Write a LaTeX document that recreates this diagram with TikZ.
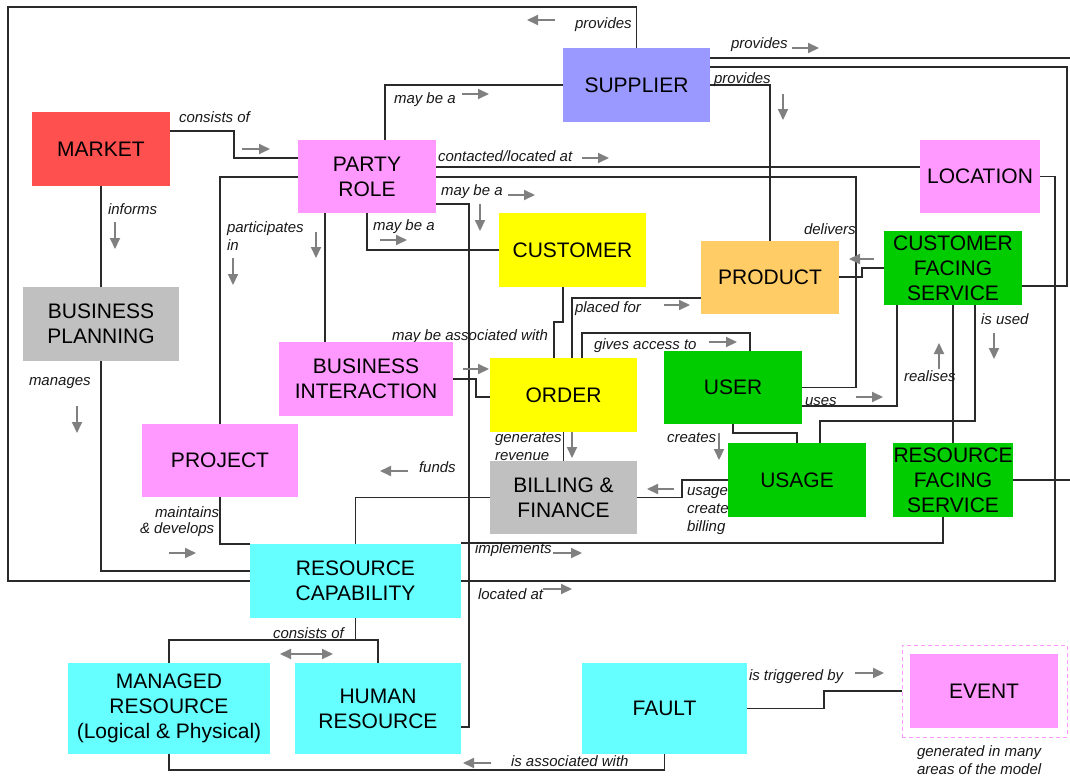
\documentclass[tikz,border=0pt]{standalone}
\usepackage{fontspec}
\setmainfont{Liberation Sans}
\usetikzlibrary{arrows.meta}
\definecolor{cRed}{HTML}{FF5050}
\definecolor{cPink}{HTML}{FF99FF}
\definecolor{cBlue}{HTML}{9999FF}
\definecolor{cYellow}{HTML}{FFFF00}
\definecolor{cOrange}{HTML}{FFCC66}
\definecolor{cGreen}{HTML}{00CC00}
\definecolor{cGrey}{HTML}{C0C0C0}
\definecolor{cCyan}{HTML}{66FFFF}
\definecolor{cLine}{HTML}{2A2A2A}
\definecolor{cArrow}{HTML}{808080}
\pgfdeclarelayer{paper}
\pgfdeclarelayer{wires}
\pgfsetlayers{paper,wires,main}
\begin{document}
\begin{tikzpicture}[x=1pt,y=-1pt,
  entity/.style={rectangle, inner sep=0pt, outer sep=0pt, align=center,
     font=\fontsize{21}{25}\selectfont, text=black},
  link/.style={draw=cLine, line width=1.25pt},
  rel/.style={inner sep=0pt, outer sep=0pt, anchor=west, align=left,
     font=\fontsize{15}{18}\selectfont\itshape, text=black!90},
  hint/.style={draw=cArrow, line width=2pt, -{Triangle[length=11pt,width=10pt]}},
  hintboth/.style={draw=cArrow, line width=2pt,
     {Triangle[length=11pt,width=10pt]}-{Triangle[length=11pt,width=10pt]}},
]
\useasboundingbox (0,0) rectangle (1070,776);
\begin{pgfonlayer}{paper}
  \fill[white] (0,0) rectangle (1070,776);
\end{pgfonlayer}

% ---------- entities ----------
\node[entity, fill=cRed,    minimum width=138pt, minimum height=74pt] (market)   at (101,149)   {MARKET};
\node[entity, fill=cPink,   minimum width=138pt, minimum height=73pt] (party)    at (367,176.5) {PARTY\\ROLE};
\node[entity, fill=cBlue,   minimum width=147pt, minimum height=74pt] (supplier) at (636.5,85)  {SUPPLIER};
\node[entity, fill=cPink,   minimum width=120pt, minimum height=73pt] (location) at (980,176.5) {LOCATION};
\node[entity, fill=cYellow, minimum width=147pt, minimum height=74pt] (customer) at (572.5,250) {CUSTOMER};
\node[entity, fill=cOrange, minimum width=138pt, minimum height=73pt] (product)  at (770,277.5) {PRODUCT};
\node[entity, fill=cGreen,  minimum width=138pt, minimum height=74pt] (cfs)      at (953,268)   {CUSTOMER\\FACING\\SERVICE};
\node[entity, fill=cGrey,   minimum width=156pt, minimum height=74pt] (bplan)    at (101,324)   {BUSINESS\\PLANNING};
\node[entity, fill=cPink,   minimum width=174pt, minimum height=74pt] (binter)   at (366,379)   {BUSINESS\\INTERACTION};
\node[entity, fill=cYellow, minimum width=147pt, minimum height=74pt] (order)    at (563.5,395) {ORDER};
\node[entity, fill=cGreen,  minimum width=138pt, minimum height=73pt] (user)     at (733,387.5) {USER};
\node[entity, fill=cPink,   minimum width=156pt, minimum height=73pt] (project)  at (220,460.5) {PROJECT};
\node[entity, fill=cGrey,   minimum width=147pt, minimum height=73pt] (billing)  at (563.5,497.5) {BILLING \&\\FINANCE};
\node[entity, fill=cGreen,  minimum width=138pt, minimum height=74pt] (usage)    at (797,480)   {USAGE};
\node[entity, fill=cGreen,  minimum width=120pt, minimum height=74pt] (rfs)      at (953,480)   {RESOURCE\\FACING\\SERVICE};
\node[entity, fill=cCyan,   minimum width=211pt, minimum height=74pt] (rescap)   at (355.5,581) {RESOURCE\\CAPABILITY};
\node[entity, fill=cCyan,   minimum width=202pt, minimum height=91pt] (managed)  at (169,708.5) {MANAGED\\RESOURCE\\(Logical \& Physical)};
\node[entity, fill=cCyan,   minimum width=166pt, minimum height=91pt] (human)    at (378,708.5) {HUMAN\\RESOURCE};
\node[entity, fill=cCyan,   minimum width=165pt, minimum height=91pt] (fault)    at (664.5,708.5) {FAULT};
\node[draw=cPink, dash pattern=on 4pt off 3pt, line width=1pt, inner sep=0pt,
      minimum width=165pt, minimum height=92pt] (evframe) at (984.5,691) {};
\node[entity, fill=cPink,   minimum width=148pt, minimum height=74pt] (event)    at (984,691)   {EVENT};

\begin{pgfonlayer}{wires}
% ---------- relationship lines ----------
\draw[link] (supplier.north) |- (8,7) |- (rescap.west);
\draw[link] (rescap.east) -| ([xshift=15pt]location.east) -- (location.east);
\draw[link] (market.east |- 0,131) -| (234,158) -- (party.west |- 0,158);
\draw[link] (market.south) -- (bplan.north);
\draw[link] (bplan.south) |- (rescap.west |- 0,571);
\draw[link] (party.north -| 385,0) |- (supplier.west);
\draw[link] (party.east |- 0,167) -- (location.west |- 0,167);
\draw[link] (project.north) |- (856,177) |- (user.east);
\draw[link] (party.south -| 325,0) -- (binter.north -| 325,0);
\draw[link] (party.south) |- (customer.west);
\draw[link] (party.east |- 0,204) -| (469,727) -- (human.east |- 0,727);
\draw[link] (supplier.east) -| (product.north);
\draw[link] (supplier.east |- 0,67) -| (1067,286) -- (cfs.east |- 0,286);
\draw[link] (supplier.east |- 0,58) -| (1073,480) -- (rfs.east);
\draw[link] (customer.south -| 563,0) |- (554,322) -- (order.north -| 554,0);
\draw[link] (binter.east) -| (476,397) -- (order.west |- 0,397);
\draw[link] (order.north -| 572,0) |- (product.west |- 0,298);
\draw[link] (order.north -| 582,0) |- (750,333) -- (user.north -| 750,0);
\draw[link] (cfs.west) -| (862,277) -- (product.east |- 0,277);
\draw[link] (user.east |- 0,406) -| (cfs.south -| 897,0);
\draw[link] (cfs.south) -- (rfs.north);
\draw[link] (cfs.south -| 975,0) |- (820,421) -- (usage.north -| 820,0);
\draw[link] (user.south) |- (797,433) -- (usage.north);
\draw[link] (order.south) -- (billing.north);
\draw[link] (usage.west) -| (682,497.5) -- (billing.east);
\draw[link] (billing.west) -| (rescap.north);
\draw[link] (project.south) |- (rescap.north west);
\draw[link] (rescap.east |- 0,543) -| (rfs.south -| 943,0);
\draw[link] (rescap.south) -- (rescap.south |- 0,640);
\draw[link] (managed.north) -- ++(0,-23) -| (human.north);
\draw[link] (fault.south) -- ++(0,16) -| (managed.south);
\draw[link] (fault.east) -| (824,691) -- (evframe.west);

% ---------- relationship names ----------
\node[rel] (t1)  at (575,25)  {provides};
\node[rel] (t2)  at (731,45)  {provides};
\node[rel] (t3)  at (714,80)  {provides};
\node[rel] (t4)  at (394,100) {may be a};
\node[rel] (t5)  at (179,117) {consists of};
\node[rel] (t6)  at (438,156) {contacted/located at};
\node[rel] (t7)  at (108,209) {informs};
\node[rel] (t8)  at (441,192) {may be a};
\node[rel] (t9)  at (227,236) {participates\\in};
\node[rel] (t10) at (373,227) {may be a};
\node[rel] (t11) at (804,229) {delivers};
\node[rel] (t12) at (575,309) {placed for};
\node[rel] (t13) at (981,319) {is used};
\node[rel] (t14) at (392,337) {may be associated with};
\node[rel] (t15) at (594,346) {gives access to};
\node[rel] (t16) at (904,376) {realises};
\node[rel] (t17) at (29,383)  {manages};
\node[rel] (t18) at (805,402) {uses};
\node[rel] (t19) at (495,447) {generates\\revenue};
\node[rel] (t20) at (667,438) {creates};
\node[rel] (t21) at (419,467) {funds};
\node[rel] (t22) at (687,511.5) {usage\\creates\\billing};
\node[rel] (t23) at (155,512) {maintains};
\node[rel] (t24) at (140,530) {\& develops};
\node[rel] (t25) at (475,550) {implements};
\node[rel] (t26) at (478,594) {located at};
\node[rel] (t27) at (273,633) {consists of};
\node[rel] (t28) at (749,677) {is triggered by};
\node[rel] (t29) at (511,761) {is associated with};
\node[rel] (t30) at (917,760) {generated in many\\areas of the model};

% ---------- reading-direction arrows ----------
\draw[hint] (555,20) -- (527,20);
\draw[hint] (792,48) -- (819,48);
\draw[hint] (783,94) -- (783,120);
\draw[hint] (462,94) -- (489,94);
\draw[hint] (242,149) -- (270,149);
\draw[hint] (582,158) -- (609,158);
\draw[hint] (115,222) -- (115,249);
\draw[hint] (508,195) -- (535,195);
\draw[hint] (480,204) -- (480,231);
\draw[hint] (316,232) -- (316,258);
\draw[hint] (233,258) -- (233,285);
\draw[hint] (380,240) -- (407,240);
\draw[hint] (874,259) -- (849,259);
\draw[hint] (664,305) -- (690,305);
\draw[hint] (994,333) -- (994,359);
\draw[hint] (463,369) -- (489,369);
\draw[hint] (709,342) -- (737,342);
\draw[hint] (939,369) -- (939,343);
\draw[hint] (77,406) -- (77,433);
\draw[hint] (856,397) -- (883,397);
\draw[hint] (572,432) -- (572,458);
\draw[hint] (719,433) -- (719,460);
\draw[hint] (408,471) -- (380,471);
\draw[hint] (674,489) -- (647,489);
\draw[hint] (169,553) -- (196,553);
\draw[hint] (553,553) -- (582,553);
\draw[hint] (543,589) -- (572,589);
\draw[hintboth] (280,654) -- (333,654);
\draw[hint] (855,673) -- (884,673);
\draw[hint] (491,763) -- (463,763);
\end{pgfonlayer}
\end{tikzpicture}
\end{document}
